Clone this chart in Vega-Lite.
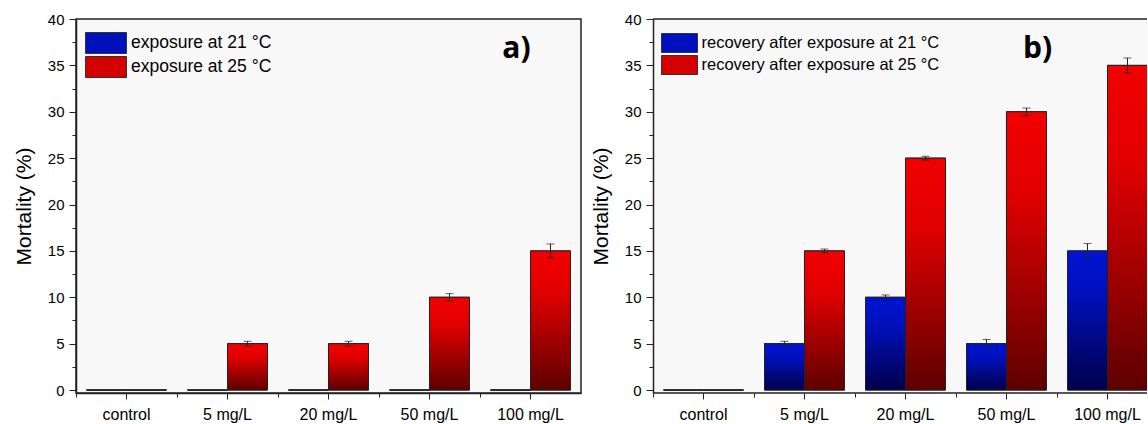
{
  "$schema": "https://vega.github.io/schema/vega-lite/v6.json",
  "padding": {"left": 12, "top": 11, "right": 0, "bottom": 0},
  "spacing": 8,
  "resolve": {"scale": {"color": "independent", "xOffset": "independent", "x": "independent", "y": "independent", "fill": "independent"}, "legend": {"color": "independent"}},
  "config": {
    "font": "Liberation Sans",
    "view": {"fill": "#f8f8f8", "stroke": null},
    "axis": {"labelColor": "#000", "titleColor": "#000", "tickColor": "#222", "domainColor": "#222", "labelFont": "Liberation Sans", "titleFont": "Liberation Sans", "grid": false},
    "legend": {"labelFont": "Liberation Sans", "labelColor": "#000"}
  },
  "datasets": {
    "a": [
      {"dose": "control", "series": "exposure at 21 °C", "value": 0, "lo": null, "hi": null},
      {"dose": "control", "series": "exposure at 25 °C", "value": 0, "lo": null, "hi": null},
      {"dose": "5 mg/L", "series": "exposure at 21 °C", "value": 0, "lo": null, "hi": null},
      {"dose": "5 mg/L", "series": "exposure at 25 °C", "value": 5, "lo": 4.75, "hi": 5.25},
      {"dose": "20 mg/L", "series": "exposure at 21 °C", "value": 0, "lo": null, "hi": null},
      {"dose": "20 mg/L", "series": "exposure at 25 °C", "value": 5, "lo": 4.75, "hi": 5.25},
      {"dose": "50 mg/L", "series": "exposure at 21 °C", "value": 0, "lo": null, "hi": null},
      {"dose": "50 mg/L", "series": "exposure at 25 °C", "value": 10, "lo": 9.6, "hi": 10.4},
      {"dose": "100 mg/L", "series": "exposure at 21 °C", "value": 0, "lo": null, "hi": null},
      {"dose": "100 mg/L", "series": "exposure at 25 °C", "value": 15, "lo": 14.25, "hi": 15.75}
    ],
    "b": [
      {"dose": "control", "series": "recovery after exposure at 21 °C", "value": 0, "lo": null, "hi": null},
      {"dose": "control", "series": "recovery after exposure at 25 °C", "value": 0, "lo": null, "hi": null},
      {"dose": "5 mg/L", "series": "recovery after exposure at 21 °C", "value": 5, "lo": 4.75, "hi": 5.25},
      {"dose": "5 mg/L", "series": "recovery after exposure at 25 °C", "value": 15, "lo": 14.8, "hi": 15.2},
      {"dose": "20 mg/L", "series": "recovery after exposure at 21 °C", "value": 10, "lo": 9.75, "hi": 10.25},
      {"dose": "20 mg/L", "series": "recovery after exposure at 25 °C", "value": 25, "lo": 24.8, "hi": 25.2},
      {"dose": "50 mg/L", "series": "recovery after exposure at 21 °C", "value": 5, "lo": 4.55, "hi": 5.45},
      {"dose": "50 mg/L", "series": "recovery after exposure at 25 °C", "value": 30, "lo": 29.6, "hi": 30.4},
      {"dose": "100 mg/L", "series": "recovery after exposure at 21 °C", "value": 15, "lo": 14.2, "hi": 15.8},
      {"dose": "100 mg/L", "series": "recovery after exposure at 25 °C", "value": 35, "lo": 34.2, "hi": 35.8}
    ]
  },
  "hconcat": [
    {
      "width": 505,
      "height": 374,
      "data": {"name": "a"},
      "view": {"stroke": "#222", "strokeWidth": 1.5},
      "resolve": {"axis": {"x": "independent", "y": "independent"}},
      "layer": [
        {
          "mark": {"type": "bar", "stroke": "#222", "strokeWidth": 1},
          "encoding": {
            "x": {"field": "dose", "type": "nominal", "scale": {"domain": ["control", "5 mg/L", "20 mg/L", "50 mg/L", "100 mg/L"], "paddingInner": 0, "paddingOuter": 0},
              "axis": {"orient": "bottom", "title": null, "labelAngle": 0, "labelFontSize": 16, "tickSize": 6, "labelPadding": 7, "domainWidth": 1.5, "tickWidth": 1}},
            "xOffset": {"field": "series", "type": "nominal", "scale": {"domain": ["exposure at 21 °C", "exposure at 25 °C"], "paddingInner": 0, "paddingOuter": 0.2625}},
            "y": {"field": "value", "type": "quantitative", "stack": null, "scale": {"domain": [-0.32, 40], "nice": false, "zero": false},
              "axis": {"orient": "left", "values": [0, 5, 10, 15, 20, 25, 30, 35, 40], "tickSize": 7, "labelFontSize": 15, "labelPadding": 5, "title": "Mortality (%)", "titleFontSize": 21, "titleFontWeight": "normal", "titlePadding": 13, "domainWidth": 1.5, "tickWidth": 1}},
            "color": {"field": "series", "type": "nominal",
              "scale": {"domain": ["exposure at 21 °C", "exposure at 25 °C"], "range": ["#0010bc", "#d40000"]},
              "legend": {"orient": "none", "legendX": 9, "legendY": 13, "title": null, "symbolType": "M-1.952,-1H1.952V1H-1.952Z", "symbolSize": 441, "symbolOffset": 10, "labelOffset": 14, "symbolStrokeColor": "#333", "symbolStrokeWidth": 1, "labelFontSize": 17.5, "rowPadding": -3, "labelLimit": 400}}
          }
        },
        {
          "mark": {"type": "bar", "stroke": "#222", "strokeWidth": 1},
          "encoding": {
            "x": {"field": "dose", "type": "nominal", "scale": {"domain": ["control", "5 mg/L", "20 mg/L", "50 mg/L", "100 mg/L"]}, "axis": null},
            "xOffset": {"field": "series", "type": "nominal", "scale": {"domain": ["exposure at 21 °C", "exposure at 25 °C"]}},
            "y": {"field": "value", "type": "quantitative", "stack": null, "axis": null},
            "fill": {"condition": {"test": "indexof(datum.series, '21') >= 0",
                "value": {"gradient": "linear", "x1": 0, "y1": 0, "x2": 0, "y2": 1, "stops": [{"offset": 0, "color": "#0014d2"}, {"offset": 0.3, "color": "#0010bc"}, {"offset": 1, "color": "#00004a"}]}},
              "value": {"gradient": "linear", "x1": 0, "y1": 0, "x2": 0, "y2": 1, "stops": [{"offset": 0, "color": "#f20000"}, {"offset": 0.3, "color": "#e00000"}, {"offset": 1, "color": "#5e0000"}]}}
          }
        },
        {
          "transform": [{"filter": "datum.hi != null"}],
          "mark": {"type": "rule", "color": "#222", "strokeWidth": 1},
          "encoding": {
            "x": {"field": "dose", "type": "nominal", "scale": {"domain": ["control", "5 mg/L", "20 mg/L", "50 mg/L", "100 mg/L"]},
              "axis": {"orient": "bottom", "bandPosition": 0, "labels": false, "domain": false, "tickSize": 4, "title": null, "tickWidth": 1}},
            "xOffset": {"field": "series", "type": "nominal", "scale": {"domain": ["exposure at 21 °C", "exposure at 25 °C"]}},
            "y": {"field": "lo", "type": "quantitative",
              "axis": {"orient": "left", "values": [2.5, 7.5, 12.5, 17.5, 22.5, 27.5, 32.5, 37.5], "labels": false, "domain": false, "tickSize": 4, "title": null, "tickWidth": 1}},
            "y2": {"field": "hi"}
          }
        },
        {
          "transform": [{"filter": "datum.hi != null"}],
          "mark": {"type": "tick", "orient": "horizontal", "size": 8, "thickness": 1, "color": "#222"},
          "encoding": {
            "x": {"field": "dose", "type": "nominal", "scale": {"domain": ["control", "5 mg/L", "20 mg/L", "50 mg/L", "100 mg/L"]}, "axis": null},
            "xOffset": {"field": "series", "type": "nominal", "scale": {"domain": ["exposure at 21 °C", "exposure at 25 °C"]}},
            "y": {"field": "lo", "type": "quantitative", "axis": null}
          }
        },
        {
          "transform": [{"filter": "datum.hi != null"}],
          "mark": {"type": "tick", "orient": "horizontal", "size": 8, "thickness": 1, "color": "#222"},
          "encoding": {
            "x": {"field": "dose", "type": "nominal", "scale": {"domain": ["control", "5 mg/L", "20 mg/L", "50 mg/L", "100 mg/L"]}, "axis": null},
            "xOffset": {"field": "series", "type": "nominal", "scale": {"domain": ["exposure at 21 °C", "exposure at 25 °C"]}},
            "y": {"field": "hi", "type": "quantitative", "axis": null}
          }
        },
        {
          "data": {"values": [{"label": "a)"}]},
          "mark": {"type": "text", "font": "Open Sans", "fontWeight": "bold", "fontSize": 30, "dx": -14, "baseline": "middle", "align": "center", "color": "#000"},
          "encoding": {
            "x": {"datum": "100 mg/L", "type": "nominal", "axis": null},
            "y": {"datum": 36.8, "type": "quantitative", "axis": null},
            "text": {"field": "label"}
          }
        }
      ]
    },
    {
      "width": 494,
      "height": 374,
      "data": {"name": "b"},
      "resolve": {"axis": {"x": "independent", "y": "independent"}},
      "layer": [
        {
          "mark": {"type": "bar", "stroke": "#222", "strokeWidth": 1, "clip": true},
          "encoding": {
            "x": {"field": "dose", "type": "nominal", "scale": {"domain": ["control", "5 mg/L", "20 mg/L", "50 mg/L", "100 mg/L"], "paddingInner": 0, "paddingOuter": 0, "range": [0, 505]},
              "axis": {"orient": "bottom", "title": null, "labelAngle": 0, "labelFontSize": 16, "tickSize": 6, "labelPadding": 7, "domain": false, "tickWidth": 1}},
            "xOffset": {"field": "series", "type": "nominal", "scale": {"domain": ["recovery after exposure at 21 °C", "recovery after exposure at 25 °C"], "paddingInner": 0, "paddingOuter": 0.2625}},
            "y": {"field": "value", "type": "quantitative", "stack": null, "scale": {"domain": [-0.32, 40], "nice": false, "zero": false},
              "axis": {"orient": "left", "values": [0, 5, 10, 15, 20, 25, 30, 35, 40], "tickSize": 7, "labelFontSize": 15, "labelPadding": 5, "title": "Mortality (%)", "titleFontSize": 21, "titleFontWeight": "normal", "titlePadding": 13, "domainWidth": 1.5, "tickWidth": 1}},
            "color": {"field": "series", "type": "nominal",
              "scale": {"domain": ["recovery after exposure at 21 °C", "recovery after exposure at 25 °C"], "range": ["#0010bc", "#d40000"]},
              "legend": {"orient": "none", "legendX": 8, "legendY": 14, "title": null, "symbolType": "M-1.895,-1H1.895V1H-1.895Z", "symbolSize": 361, "symbolOffset": 8.5, "labelOffset": 12, "symbolStrokeColor": "#333", "symbolStrokeWidth": 1, "labelFontSize": 16.5, "rowPadding": -3, "labelLimit": 400}}
          }
        },
        {
          "mark": {"type": "bar", "stroke": "#222", "strokeWidth": 1, "clip": true},
          "encoding": {
            "x": {"field": "dose", "type": "nominal", "scale": {"domain": ["control", "5 mg/L", "20 mg/L", "50 mg/L", "100 mg/L"]}, "axis": null},
            "xOffset": {"field": "series", "type": "nominal", "scale": {"domain": ["recovery after exposure at 21 °C", "recovery after exposure at 25 °C"]}},
            "y": {"field": "value", "type": "quantitative", "stack": null, "axis": null},
            "fill": {"condition": {"test": "indexof(datum.series, '21') >= 0",
                "value": {"gradient": "linear", "x1": 0, "y1": 0, "x2": 0, "y2": 1, "stops": [{"offset": 0, "color": "#0014d2"}, {"offset": 0.3, "color": "#0010bc"}, {"offset": 1, "color": "#00004a"}]}},
              "value": {"gradient": "linear", "x1": 0, "y1": 0, "x2": 0, "y2": 1, "stops": [{"offset": 0, "color": "#f20000"}, {"offset": 0.3, "color": "#e00000"}, {"offset": 1, "color": "#5e0000"}]}}
          }
        },
        {
          "transform": [{"filter": "datum.hi != null"}],
          "mark": {"type": "rule", "color": "#222", "strokeWidth": 1},
          "encoding": {
            "x": {"field": "dose", "type": "nominal", "scale": {"domain": ["control", "5 mg/L", "20 mg/L", "50 mg/L", "100 mg/L"]},
              "axis": {"orient": "bottom", "bandPosition": 0, "labels": false, "domain": false, "tickSize": 4, "title": null, "tickWidth": 1}},
            "xOffset": {"field": "series", "type": "nominal", "scale": {"domain": ["recovery after exposure at 21 °C", "recovery after exposure at 25 °C"]}},
            "y": {"field": "lo", "type": "quantitative",
              "axis": {"orient": "left", "values": [2.5, 7.5, 12.5, 17.5, 22.5, 27.5, 32.5, 37.5], "labels": false, "domain": false, "tickSize": 4, "title": null, "tickWidth": 1}},
            "y2": {"field": "hi"}
          }
        },
        {
          "transform": [{"filter": "datum.hi != null"}],
          "mark": {"type": "tick", "orient": "horizontal", "size": 8, "thickness": 1, "color": "#222"},
          "encoding": {
            "x": {"field": "dose", "type": "nominal", "scale": {"domain": ["control", "5 mg/L", "20 mg/L", "50 mg/L", "100 mg/L"]}, "axis": null},
            "xOffset": {"field": "series", "type": "nominal", "scale": {"domain": ["recovery after exposure at 21 °C", "recovery after exposure at 25 °C"]}},
            "y": {"field": "lo", "type": "quantitative", "axis": null}
          }
        },
        {
          "transform": [{"filter": "datum.hi != null"}],
          "mark": {"type": "tick", "orient": "horizontal", "size": 8, "thickness": 1, "color": "#222"},
          "encoding": {
            "x": {"field": "dose", "type": "nominal", "scale": {"domain": ["control", "5 mg/L", "20 mg/L", "50 mg/L", "100 mg/L"]}, "axis": null},
            "xOffset": {"field": "series", "type": "nominal", "scale": {"domain": ["recovery after exposure at 21 °C", "recovery after exposure at 25 °C"]}},
            "y": {"field": "hi", "type": "quantitative", "axis": null}
          }
        },
        {
          "data": {"values": [{"f": 1}]},
          "mark": {"type": "rule", "color": "#222", "strokeWidth": 1.5},
          "encoding": {"y": {"datum": 40, "type": "quantitative", "axis": null}}
        },
        {
          "data": {"values": [{"f": 1}]},
          "mark": {"type": "rule", "color": "#222", "strokeWidth": 1.5},
          "encoding": {"y": {"datum": -0.32, "type": "quantitative", "axis": null}}
        },
        {
          "data": {"values": [{"label": "b)"}]},
          "mark": {"type": "text", "font": "Open Sans", "fontWeight": "bold", "fontSize": 30, "dx": 31, "baseline": "middle", "align": "center", "color": "#000"},
          "encoding": {
            "x": {"datum": "50 mg/L", "type": "nominal", "axis": null},
            "y": {"datum": 36.8, "type": "quantitative", "axis": null},
            "text": {"field": "label"}
          }
        }
      ]
    }
  ]
}
